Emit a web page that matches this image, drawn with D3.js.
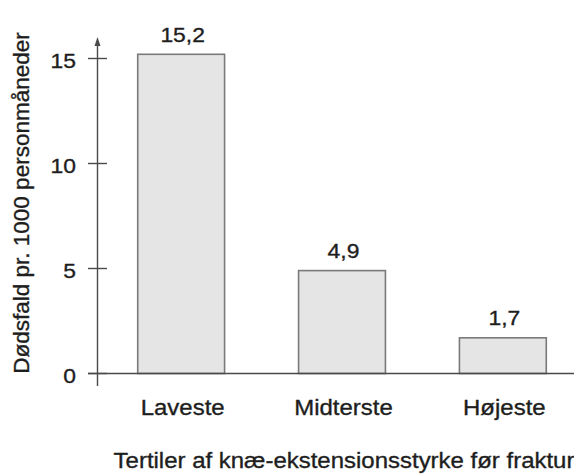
<!DOCTYPE html>
<html>
<head>
<meta charset="utf-8">
<script src="https://cdn.jsdelivr.net/npm/d3@7"></script>
<style>
  html, body { margin: 0; padding: 0; background: #fff; }
  svg { display: block; }
  text { font-family: Arial, "Liberation Sans", sans-serif; fill: #1e1e1e; stroke: #1e1e1e; stroke-width: 0.35; }
</style>
</head>
<body>
<svg id="chart" width="574" height="474"></svg>
<script>
// Mortality per 1000 person-months by tertile of knee-extension strength
const categories = ["Laveste", "Midterste", "Højeste"];
const values = [15.2, 4.9, 1.7];
const valueLabels = ["15,2", "4,9", "1,7"];
const yTicks = [0, 5, 10, 15];
const yTitle = "Dødsfald pr. 1000 personmåneder";
const xTitle = "Tertiler af knæ-ekstensionsstyrke før fraktur";

const svg = d3.select("#chart");
const axisX = 97;       // position of the vertical axis
const baseY = 373;      // position of the zero line
const widen = 1.09;     // horizontal stretch of the wide lettering

const y = d3.scaleLinear().domain([0, 15]).range([baseY, 58]);
const x = d3.scaleBand()
  .domain(categories)
  .range([axisX, 586])
  .paddingInner(0.46)
  .paddingOuter(0.25);

const axisColor = "#4a4a4a";

// bars
svg.append("g").selectAll("rect")
  .data(values)
  .join("rect")
  .attr("x", (d, i) => x(categories[i]) + 0.5)
  .attr("y", d => y(d) + 0.5)
  .attr("width", x.bandwidth())
  .attr("height", d => baseY - y(d))
  .attr("fill", "#e5e5e5")
  .attr("stroke", "#7a7a7a")
  .attr("stroke-width", 1.6);

// horizontal base line
svg.append("line")
  .attr("x1", 88).attr("x2", 574)
  .attr("y1", baseY + 0.5).attr("y2", baseY + 0.5)
  .attr("stroke", axisColor).attr("stroke-width", 1.4);

// vertical axis with arrow
svg.append("line")
  .attr("x1", axisX + 0.5).attr("x2", axisX + 0.5)
  .attr("y1", 44).attr("y2", 386)
  .attr("stroke", axisColor).attr("stroke-width", 1.4);
svg.append("path")
  .attr("d", `M${axisX + 0.5},37 L${axisX - 2.5},46 L${axisX + 3.5},46 Z`)
  .attr("fill", axisColor);

// y ticks crossing the axis
const ticks = svg.append("g");
ticks.selectAll("line")
  .data(yTicks)
  .join("line")
  .attr("x1", 88).attr("x2", 107)
  .attr("y1", d => y(d) + 0.5).attr("y2", d => y(d) + 0.5)
  .attr("stroke", axisColor).attr("stroke-width", 1.4);
ticks.selectAll("text")
  .data(yTicks)
  .join("text")
  .attr("transform", d => `translate(76,${y(d) + 10}) scale(${widen},1)`)
  .attr("text-anchor", "end")
  .attr("font-size", 21)
  .text(d => d);

// value labels above bars
svg.append("g").selectAll("text")
  .data(values)
  .join("text")
  .attr("transform", (d, i) =>
    `translate(${x(categories[i]) + x.bandwidth() / 2 + 2},${y(d) - 12}) scale(${widen},1)`)
  .attr("text-anchor", "middle")
  .attr("font-size", 21)
  .text((d, i) => valueLabels[i]);

// category labels
svg.append("g").selectAll("text")
  .data(categories)
  .join("text")
  .attr("transform", d => `translate(${x(d) + x.bandwidth() / 2 + 2},415) scale(${widen},1)`)
  .attr("text-anchor", "middle")
  .attr("font-size", 22)
  .text(d => d);

// axis titles
svg.append("text")
  .attr("transform", `translate(344,468) scale(${widen},1)`)
  .attr("text-anchor", "middle")
  .attr("font-size", 22)
  .text(xTitle);

svg.append("text")
  .attr("transform", "translate(29,203) rotate(-90)")
  .attr("text-anchor", "middle")
  .attr("font-size", 22.5)
  .text(yTitle);
</script>
</body>
</html>
